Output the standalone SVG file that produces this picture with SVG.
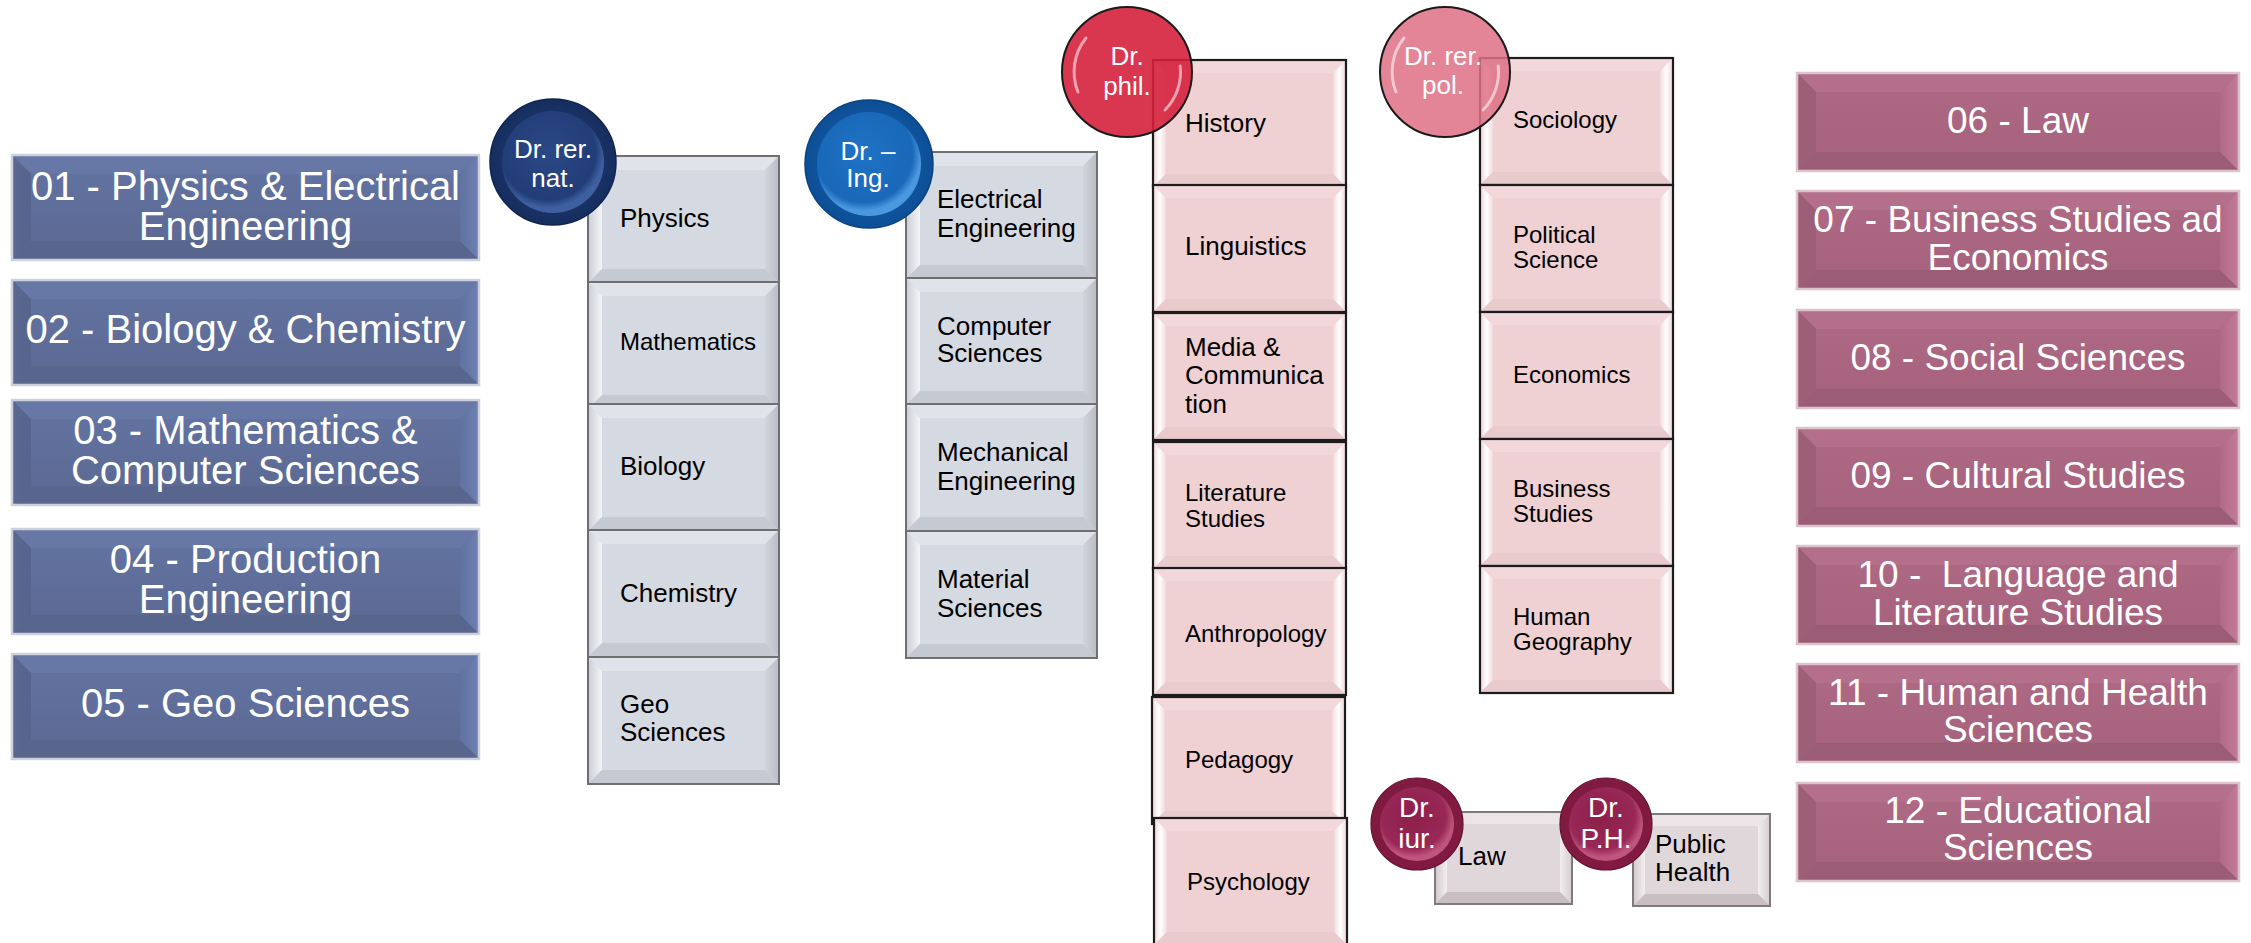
<svg xmlns="http://www.w3.org/2000/svg" xmlns:xlink="http://www.w3.org/1999/xlink" width="2251" height="943" viewBox="0 0 2251 943">
<style>
text{font-family:"Liberation Sans",Arial,sans-serif}
.wl{fill:#fff;font-size:40px;text-anchor:middle}
.wr{fill:#fff;font-size:37px;text-anchor:middle}
.k26{fill:#000;font-size:26px}
.k24{fill:#000;font-size:24px}
.c26{fill:#fff;font-size:26px;text-anchor:middle}
.c28{fill:#fff;font-size:28px;text-anchor:middle}
.gl{fill:none;stroke:#fff;stroke-width:3;stroke-linecap:round;opacity:.55}
</style>
<defs>
<linearGradient id="gBlueL" x1="0" y1="0" x2="1" y2="0"><stop offset="0" stop-color="#5b6992"/><stop offset="1" stop-color="#56648c"/></linearGradient>
<linearGradient id="gBlueR" x1="0" y1="0" x2="1" y2="0"><stop offset="0" stop-color="#6072a1"/><stop offset="1" stop-color="#6e81b2"/></linearGradient>
<linearGradient id="gBlueIn" x1="0" y1="0" x2="0" y2="1"><stop offset="0" stop-color="#6272a0"/><stop offset="1" stop-color="#5c6a94"/></linearGradient>
<linearGradient id="gMagR" x1="0" y1="0" x2="1" y2="0"><stop offset="0" stop-color="#b06a85"/><stop offset="1" stop-color="#c57e99"/></linearGradient>
<linearGradient id="gMagIn" x1="0" y1="0" x2="0" y2="1"><stop offset="0" stop-color="#ad6883"/><stop offset="1" stop-color="#a7637d"/></linearGradient>
<linearGradient id="gGreyL" x1="0" y1="0" x2="1" y2="0"><stop offset="0" stop-color="#c6cad2"/><stop offset="1" stop-color="#f4f5f8"/></linearGradient>
<linearGradient id="gGreyR" x1="0" y1="0" x2="1" y2="0"><stop offset="0" stop-color="#d0d4dc"/><stop offset="1" stop-color="#b6bbc5"/></linearGradient>
<linearGradient id="gRoseL" x1="0" y1="0" x2="1" y2="0"><stop offset="0" stop-color="#eccdd0"/><stop offset=".55" stop-color="#ffffff"/><stop offset="1" stop-color="#f3dadd"/></linearGradient>
<linearGradient id="gRoseR" x1="0" y1="0" x2="1" y2="0"><stop offset="0" stop-color="#f3dadd"/><stop offset=".45" stop-color="#ffffff"/><stop offset="1" stop-color="#eccdd0"/></linearGradient>
<linearGradient id="gLawL" x1="0" y1="0" x2="1" y2="0"><stop offset="0" stop-color="#cfc5c8"/><stop offset="1" stop-color="#f3eff0"/></linearGradient>
<linearGradient id="gLawR" x1="0" y1="0" x2="1" y2="0"><stop offset="0" stop-color="#f2eeef"/><stop offset="1" stop-color="#d3c9cc"/></linearGradient>
<radialGradient id="gNatO" cx=".5" cy=".5" r=".5"><stop offset="0" stop-color="#27437f"/><stop offset="1" stop-color="#162d5e"/></radialGradient>
<radialGradient id="gNatI" cx=".45" cy=".4" r=".55"><stop offset="0" stop-color="#2b4886"/><stop offset=".85" stop-color="#223d78"/><stop offset="1" stop-color="#3e60a0"/></radialGradient>
<radialGradient id="gIngO" cx=".5" cy=".5" r=".5"><stop offset="0" stop-color="#1565b6"/><stop offset="1" stop-color="#0d4f96"/></radialGradient>
<radialGradient id="gIngI" cx=".45" cy=".4" r=".55"><stop offset="0" stop-color="#1f72c4"/><stop offset=".85" stop-color="#1968b9"/><stop offset="1" stop-color="#4a98e0"/></radialGradient>
<radialGradient id="gMarI" cx=".45" cy=".4" r=".55"><stop offset="0" stop-color="#8d1f4a"/><stop offset=".8" stop-color="#982856"/><stop offset="1" stop-color="#c0557c"/></radialGradient>
<g id="bvBlue">
<rect width="469" height="107" fill="#5f6f9b"/>
<polygon points="0,0 469,0 449,20 20,20" fill="#6878a6"/>
<polygon points="0,0 20,20 20,87 0,107" fill="url(#gBlueL)"/>
<polygon points="469,0 469,107 449,87 449,20" fill="url(#gBlueR)"/>
<polygon points="0,107 20,87 449,87 469,107" fill="#58668e"/>
<rect x="20" y="20" width="429" height="67" fill="url(#gBlueIn)"/>
<rect x="1" y="1" width="467" height="105" fill="none" stroke="#cdd1dc" stroke-width="2.5"/>
</g>
<g id="bvMag">
<rect width="444" height="100" fill="#a96580"/>
<polygon points="0,0 444,0 424,20 20,20" fill="#b46f8a"/>
<polygon points="0,0 20,20 20,80 0,100" fill="#9d5e77"/>
<polygon points="444,0 444,100 424,80 424,20" fill="url(#gMagR)"/>
<polygon points="0,100 20,80 424,80 444,100" fill="#9b5d75"/>
<rect x="20" y="20" width="404" height="60" fill="url(#gMagIn)"/>
<rect x="1" y="1" width="442" height="98" fill="none" stroke="#dcc4cd" stroke-width="2.5"/>
</g>
<g id="bvGrey">
<rect width="193" height="129" fill="#d3d7e0"/>
<polygon points="0,0 193,0 178,15 15,15" fill="#e0e3e9"/>
<polygon points="0,0 15,15 15,114 0,129" fill="url(#gGreyL)"/>
<polygon points="193,0 193,129 178,114 178,15" fill="url(#gGreyR)"/>
<polygon points="0,129 15,114 178,114 193,129" fill="#c5c9d1"/>
<rect x="15" y="15" width="163" height="99" fill="#d5d9e2"/>
<rect x="1" y="1" width="191" height="127" fill="none" stroke="#6f6f6f" stroke-width="2"/>
</g>
<g id="bvRose">
<rect width="195" height="129" fill="#efd1d4"/>
<polygon points="0,0 195,0 181,14 14,14" fill="#f2d8db"/>
<polygon points="0,0 14,14 14,115 0,129" fill="url(#gRoseL)"/>
<polygon points="195,0 195,129 181,115 181,14" fill="url(#gRoseR)"/>
<polygon points="0,129 14,115 181,115 195,129" fill="#e9cacd"/>
<rect x="14" y="14" width="167" height="101" fill="#efd0d3"/>
<rect x="1" y="1" width="193" height="127" fill="none" stroke="#1c1c1c" stroke-width="2.2"/>
</g>
<g id="bvLaw">
<rect width="139" height="94" fill="#ddd3d6"/>
<polygon points="0,0 139,0 126,13 13,13" fill="#ebe5e7"/>
<polygon points="0,0 13,13 13,81 0,94" fill="url(#gLawL)"/>
<polygon points="139,0 139,94 126,81 126,13" fill="url(#gLawR)"/>
<polygon points="0,94 13,81 126,81 139,94" fill="#c9bfc2"/>
<rect x="13" y="13" width="113" height="68" fill="#e0d7da"/>
<rect x="1" y="1" width="137" height="92" fill="none" stroke="#7c7c7c" stroke-width="2"/>
</g>
</defs>
<rect width="2251" height="943" fill="#fff"/>
<g id="connectors"/>

<!-- Left faculty boxes -->
<g id="f01"><use xlink:href="#bvBlue" x="11" y="154"/><text class="wl" x="245.5" y="200">01 - Physics &amp; Electrical</text><text class="wl" x="245.5" y="240">Engineering</text></g>
<g id="f02"><use xlink:href="#bvBlue" x="11" y="279"/><text class="wl" x="245.5" y="343">02 - Biology &amp; Chemistry</text></g>
<g id="f03"><use xlink:href="#bvBlue" x="11" y="399"/><text class="wl" x="245.5" y="444">03 - Mathematics &amp;</text><text class="wl" x="245.5" y="484">Computer Sciences</text></g>
<g id="f04"><use xlink:href="#bvBlue" x="11" y="528"/><text class="wl" x="245.5" y="573">04 - Production</text><text class="wl" x="245.5" y="613">Engineering</text></g>
<g id="f05"><use xlink:href="#bvBlue" x="11" y="653"/><text class="wl" x="245.5" y="717">05 - Geo Sciences</text></g>

<!-- Right faculty boxes -->
<g id="f06"><use xlink:href="#bvMag" x="1796" y="72"/><text class="wr" x="2018" y="133">06 - Law</text></g>
<g id="f07"><use xlink:href="#bvMag" x="1796" y="190"/><text class="wr" x="2018" y="232">07 - Business Studies ad</text><text class="wr" x="2018" y="270">Economics</text></g>
<g id="f08"><use xlink:href="#bvMag" x="1796" y="309"/><text class="wr" x="2018" y="370">08 - Social Sciences</text></g>
<g id="f09"><use xlink:href="#bvMag" x="1796" y="427"/><text class="wr" x="2018" y="488">09 - Cultural Studies</text></g>
<g id="f10"><use xlink:href="#bvMag" x="1796" y="545"/><text class="wr" x="2018" y="587" xml:space="preserve">10 -  Language and</text><text class="wr" x="2018" y="625">Literature Studies</text></g>
<g id="f11"><use xlink:href="#bvMag" x="1796" y="663"/><text class="wr" x="2018" y="705">11 - Human and Health</text><text class="wr" x="2018" y="742">Sciences</text></g>
<g id="f12"><use xlink:href="#bvMag" x="1796" y="782"/><text class="wr" x="2018" y="823">12 - Educational</text><text class="wr" x="2018" y="860">Sciences</text></g>

<!-- Dr. rer. nat. column -->
<g id="nat-physics"><use xlink:href="#bvGrey" x="587" y="155"/><text class="k26" x="620" y="227">Physics</text></g>
<g id="nat-math"><use xlink:href="#bvGrey" x="587" y="281"/><text class="k24" x="620" y="350">Mathematics</text></g>
<g id="nat-bio"><use xlink:href="#bvGrey" x="587" y="403"/><text class="k26" x="620" y="475">Biology</text></g>
<g id="nat-chem"><use xlink:href="#bvGrey" x="587" y="529"/><text class="k26" x="620" y="602">Chemistry</text></g>
<g id="nat-geo"><use xlink:href="#bvGrey" x="587" y="656"/><text class="k26" x="620" y="713">Geo</text><text class="k26" x="620" y="741">Sciences</text></g>

<!-- Dr.-Ing. column -->
<g id="ing-ee"><use xlink:href="#bvGrey" x="905" y="151"/><text class="k26" x="937" y="208">Electrical</text><text class="k26" x="937" y="237">Engineering</text></g>
<g id="ing-cs"><use xlink:href="#bvGrey" x="905" y="277"/><text class="k26" x="937" y="335">Computer</text><text class="k26" x="937" y="362">Sciences</text></g>
<g id="ing-me"><use xlink:href="#bvGrey" x="905" y="403"/><text class="k26" x="937" y="461">Mechanical</text><text class="k26" x="937" y="490">Engineering</text></g>
<g id="ing-ms"><use xlink:href="#bvGrey" x="905" y="530"/><text class="k26" x="937" y="588">Material</text><text class="k26" x="937" y="617">Sciences</text></g>

<!-- Dr. phil. column -->
<g id="phil-hist"><use xlink:href="#bvRose" x="1152" y="59"/><text class="k26" x="1185" y="132">History</text></g>
<g id="phil-ling"><use xlink:href="#bvRose" x="1152" y="184"/><text class="k26" x="1185" y="255">Linguistics</text></g>
<g id="phil-media"><use xlink:href="#bvRose" x="1152" y="312"/><text class="k26" x="1185" y="356">Media &amp;</text><text class="k26" x="1185" y="384">Communica</text><text class="k26" x="1185" y="413">tion</text></g>
<g id="phil-lit"><use xlink:href="#bvRose" x="1152" y="441"/><text class="k24" x="1185" y="501">Literature</text><text class="k24" x="1185" y="527">Studies</text></g>
<g id="phil-anth"><use xlink:href="#bvRose" x="1152" y="567"/><text class="k24" x="1185" y="642">Anthropology</text></g>
<g id="phil-ped"><use xlink:href="#bvRose" x="1151" y="696"/><text class="k24" x="1185" y="768">Pedagogy</text></g>
<g id="phil-psy"><use xlink:href="#bvRose" x="1153" y="817"/><text class="k24" x="1187" y="890">Psychology</text></g>

<!-- Dr. rer. pol. column -->
<g id="pol-soc"><use xlink:href="#bvRose" x="1479" y="57"/><text class="k24" x="1513" y="128">Sociology</text></g>
<g id="pol-ps"><use xlink:href="#bvRose" x="1479" y="184"/><text class="k24" x="1513" y="243">Political</text><text class="k24" x="1513" y="268">Science</text></g>
<g id="pol-eco"><use xlink:href="#bvRose" x="1479" y="311"/><text class="k24" x="1513" y="383">Economics</text></g>
<g id="pol-bus"><use xlink:href="#bvRose" x="1479" y="438"/><text class="k24" x="1513" y="497">Business</text><text class="k24" x="1513" y="522">Studies</text></g>
<g id="pol-geo"><use xlink:href="#bvRose" x="1479" y="565"/><text class="k24" x="1513" y="625">Human</text><text class="k24" x="1513" y="650">Geography</text></g>

<!-- Law / Public Health -->
<g id="iur-law"><use xlink:href="#bvLaw" x="1434" y="811"/><text class="k26" x="1458" y="865">Law</text></g>
<g id="ph-health"><use xlink:href="#bvLaw" x="1632" y="813"/><text class="k26" x="1655" y="853">Public</text><text class="k26" x="1655" y="881">Health</text></g>

<!-- Degree circles -->
<g id="deg-nat"><circle cx="553" cy="162" r="63" fill="url(#gNatO)" stroke="#11244f" stroke-width="1.5"/><circle cx="553" cy="162" r="51" fill="url(#gNatI)"/><text class="c26" x="553" y="158">Dr. rer.</text><text class="c26" x="553" y="187">nat.</text></g>
<g id="deg-ing"><circle cx="869" cy="164" r="64" fill="url(#gIngO)" stroke="#0a427f" stroke-width="1.5"/><circle cx="869" cy="164" r="52" fill="url(#gIngI)"/><text class="c26" x="868" y="160">Dr. –</text><text class="c26" x="868" y="187">Ing.</text></g>
<g id="deg-phil"><circle cx="1127" cy="72" r="65" fill="#d5203d" fill-opacity=".9" stroke="#1a1a1a" stroke-width="2"/><path class="gl" d="M1078,92 A54,54 0 0 1 1086,38"/><path class="gl" d="M1180.2,66 A54,54 0 0 1 1165,110"/><text class="c26" x="1127" y="65">Dr.</text><text class="c26" x="1127" y="95">phil.</text></g>
<g id="deg-pol"><circle cx="1445" cy="72" r="65" fill="#de7186" fill-opacity=".86" stroke="#1a1a1a" stroke-width="2"/><path class="gl" d="M1396,92 A54,54 0 0 1 1404,38"/><path class="gl" d="M1498.2,66 A54,54 0 0 1 1483,110"/><text class="c26" x="1443" y="65">Dr. rer.</text><text class="c26" x="1443" y="94">pol.</text></g>
<g id="deg-iur"><circle cx="1417" cy="824" r="46" fill="#801a40" stroke="#641232" stroke-width="1.2"/><circle cx="1417" cy="824" r="37" fill="url(#gMarI)"/><text class="c28" x="1417" y="817">Dr.</text><text class="c28" x="1417" y="848">iur.</text></g>
<g id="deg-ph"><circle cx="1606" cy="824" r="46" fill="#801a40" stroke="#641232" stroke-width="1.2"/><circle cx="1606" cy="824" r="37" fill="url(#gMarI)"/><text class="c28" x="1606" y="817">Dr.</text><text class="c28" x="1606" y="848">P.H.</text></g>
</svg>
